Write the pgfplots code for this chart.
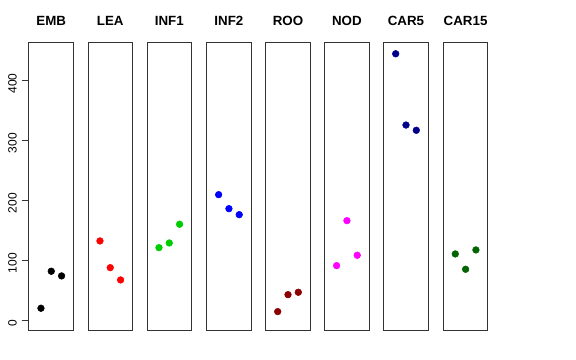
\documentclass[border=0pt]{standalone}
\usepackage{fontspec}
\setmainfont{Liberation Sans}
\usepackage{pgfplots}
\pgfplotsset{compat=1.18}
\definecolor{rgreen}{HTML}{00CD00}
\definecolor{rdarkred}{HTML}{8B0000}
\definecolor{rnavy}{HTML}{00008B}
\definecolor{rdarkgreen}{HTML}{006400}
\definecolor{rmagenta}{HTML}{FF00FF}
\definecolor{rred}{HTML}{FF0000}
\definecolor{rblue}{HTML}{0000FF}
\pgfplotsset{
  panel/.style={
    anchor=south west,
    scale only axis,
    width=33.4pt, height=216pt,
    xmin=-0.16, xmax=4.16,
    ymin=-18, ymax=463,
    xtick=\empty, ytick=\empty,
    axis line style={black!80, line width=0.75pt},
    title style={font=\bfseries\fontsize{10}{11}\selectfont, at={(0.5,1)}, anchor=base, yshift=7.1pt},
    clip=false,
  },
  pts/.style={only marks, mark=*, mark size=2.5pt, mark options={draw=#1, fill=#1}},
}
\begin{document}
\begin{tikzpicture}
\useasboundingbox (0,0) rectangle (432pt,270pt);
\begin{axis}[panel, at={(21.75pt,21.75pt)}, title={EMB},
  ytick={0,100,200,300,400}, ytick pos=left, tick align=outside,
  major tick length=5.6pt, tick style={black!80, line width=0.75pt},
  /pgf/number format/assume math mode=true,
  yticklabel style={rotate=90, anchor=south, font=\fontsize{9}{10}\selectfont, xshift=-2pt}]
\addplot[pts=black] coordinates {(1,20) (2,81.8) (3,74)};
\end{axis}
\begin{axis}[panel, at={(66pt,21.75pt)}, title={LEA}]
\addplot[pts=rred] coordinates {(1,132.4) (2,87.8) (3,67.3)};
\end{axis}
\begin{axis}[panel, at={(110.25pt,21.75pt)}, title={INF1}]
\addplot[pts=rgreen] coordinates {(1,121.2) (2,129) (3,160.3)};
\end{axis}
\begin{axis}[panel, at={(155pt,21.75pt)}, title={INF2}]
\addplot[pts=rblue] coordinates {(1,209.7) (2,186.3) (3,176.3)};
\end{axis}
\begin{axis}[panel, at={(199.3pt,21.75pt)}, title={ROO}]
\addplot[pts=rdarkred] coordinates {(1,14.4) (2,42.7) (3,46.7)};
\end{axis}
\begin{axis}[panel, at={(243.5pt,21.75pt)}, title={NOD}]
\addplot[pts=rmagenta] coordinates {(1,91.2) (2,166.3) (3,108.5)};
\end{axis}
\begin{axis}[panel, at={(287.8pt,21.75pt)}, title={CAR5}]
\addplot[pts=rnavy] coordinates {(1,445) (2,326) (3,317.2)};
\end{axis}
\begin{axis}[panel, at={(332.5pt,21.75pt)}, title={CAR15}]
\addplot[pts=rdarkgreen] coordinates {(1,110.7) (2,85.1) (3,117.4)};
\end{axis}
\end{tikzpicture}
\end{document}
